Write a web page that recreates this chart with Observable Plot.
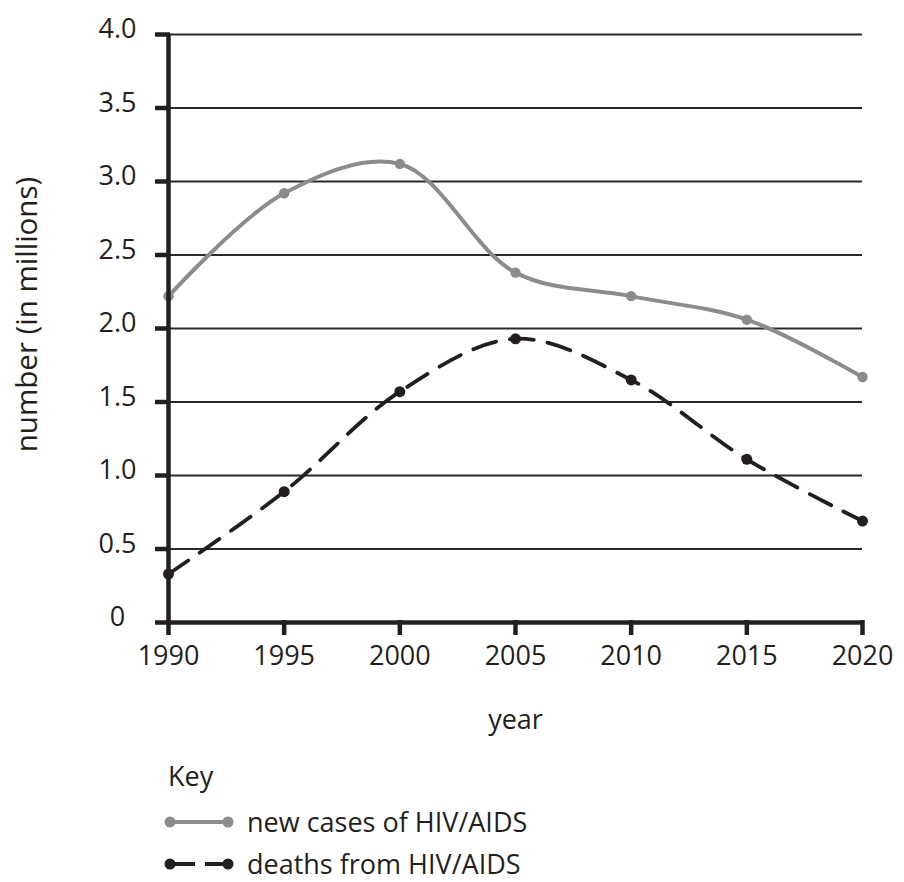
<!DOCTYPE html>
<html><head><meta charset="utf-8">
<script src="https://cdn.jsdelivr.net/npm/d3@7"></script>
<script src="https://cdn.jsdelivr.net/npm/@observablehq/plot@0.6"></script>
<style>
body{margin:0;background:#fff;font-family:"Open Sans",sans-serif;color:#231f20}
#wrap{position:relative;width:904px;height:882px;overflow:hidden}
#legend{position:absolute;left:0;top:740px}
</style></head><body><div id="wrap"><div id="chart"></div><div id="legend"></div></div>
<script>
const years = [1990, 1995, 2000, 2005, 2010, 2015, 2020];
const newCases = [2.22, 2.92, 3.12, 2.38, 2.22, 2.06, 1.67];
const deaths = [0.33, 0.89, 1.57, 1.93, 1.65, 1.11, 0.69];
const yTicks = [0, 0.5, 1.0, 1.5, 2.0, 2.5, 3.0, 3.5, 4.0];
const yTickLabels = ["0", "0.5", "1.0", "1.5", "2.0", "2.5", "3.0", "3.5", "4.0"];
const xLabel = "year";
const yLabel = "number (in millions)";
const seriesNames = ["new cases of HIV/AIDS", "deaths from HIV/AIDS"];
const seriesColors = ["#8c8c8c", "#231f20"];

const newData = years.map((y, i) => ({year: y, value: newCases[i]}));
const deathData = years.map((y, i) => ({year: y, value: deaths[i]}));
const ink = "#231f20";

const chart = Plot.plot({
  width: 904, height: 740,
  marginLeft: 168, marginRight: 42, marginTop: 34, marginBottom: 118,
  style: {fontFamily: '"Open Sans", sans-serif', fontSize: "27px", color: ink, background: "#fff"},
  x: {domain: [1990, 2020]},
  y: {domain: [0, 4]},
  marks: [
    Plot.ruleY(yTicks.filter(d => d > 0), {x1: 1990, x2: 2020, stroke: "#2a2a2a", strokeWidth: 1.8}),
    Plot.line(newData, {x: "year", y: "value", curve: "catmull-rom", stroke: seriesColors[0], strokeWidth: 4}),
    Plot.dot(newData, {x: "year", y: "value", r: 5.2, fill: seriesColors[0]}),
    Plot.line(deathData, {x: "year", y: "value", curve: "catmull-rom", stroke: seriesColors[1], strokeWidth: 3.8, strokeDasharray: "24,14"}),
    Plot.dot(deathData, {x: "year", y: "value", r: 5.5, fill: seriesColors[1]}),
    Plot.ruleX([1990], {y1: 0, y2: 4, stroke: ink, strokeWidth: 4.5}),
    Plot.ruleY([0], {x1: 1990, x2: 2020, stroke: ink, strokeWidth: 4.5}),
    // thick y tick marks (extend 13px left of the axis)
    Plot.ruleY(yTicks, {x1: 1990, x2: 1990, insetLeft: -13, insetRight: -2, stroke: ink, strokeWidth: 4.5}),
    // thick x tick marks (extend 13px below the axis)
    Plot.ruleX(years, {y1: 0, y2: 0, insetBottom: -13, insetTop: -2, stroke: ink, strokeWidth: 4.5}),
    // y tick labels (centred, slightly raised)
    Plot.axisY({ticks: yTicks, tickFormat: (d) => yTickLabels[yTicks.indexOf(d)], tickSize: 0, tickPadding: 51,
      textAnchor: "middle", dy: -5, fill: ink, label: null}),
    Plot.axisX({ticks: years, tickFormat: d => String(d), tickSize: 0, tickPadding: 23, fill: ink,
      label: xLabel, labelAnchor: "center", labelArrow: "none", labelOffset: 106}),
    Plot.text([yLabel], {frameAnchor: "left", rotate: -90, dx: -141, dy: -14, fontSize: 29.5, fill: ink,
      textAnchor: "middle", lineAnchor: "middle"})
  ]
});
document.getElementById("chart").appendChild(chart);

// Legend (below the chart)
const lg = d3.select("#legend").append("svg").attr("width", 904).attr("height", 142)
  .style("font-family", '"Open Sans", sans-serif').style("font-size", "27px");
lg.append("text").attr("x", 168).attr("y", 46).attr("fill", ink).text("Key");
const rows = [{y: 82, dash: null}, {y: 124, dash: "25,10"}];
rows.forEach((r, i) => {
  const g = lg.append("g");
  g.append("line").attr("x1", 170).attr("x2", 228).attr("y1", r.y).attr("y2", r.y)
    .attr("stroke", seriesColors[i]).attr("stroke-width", 4).attr("stroke-dasharray", r.dash);
  g.append("circle").attr("cx", 170).attr("cy", r.y).attr("r", 5.5).attr("fill", seriesColors[i]);
  g.append("circle").attr("cx", 228).attr("cy", r.y).attr("r", 5.5).attr("fill", seriesColors[i]);
  g.append("text").attr("x", 247).attr("y", r.y + 10).attr("fill", ink).text(seriesNames[i]);
});
</script></body></html>
